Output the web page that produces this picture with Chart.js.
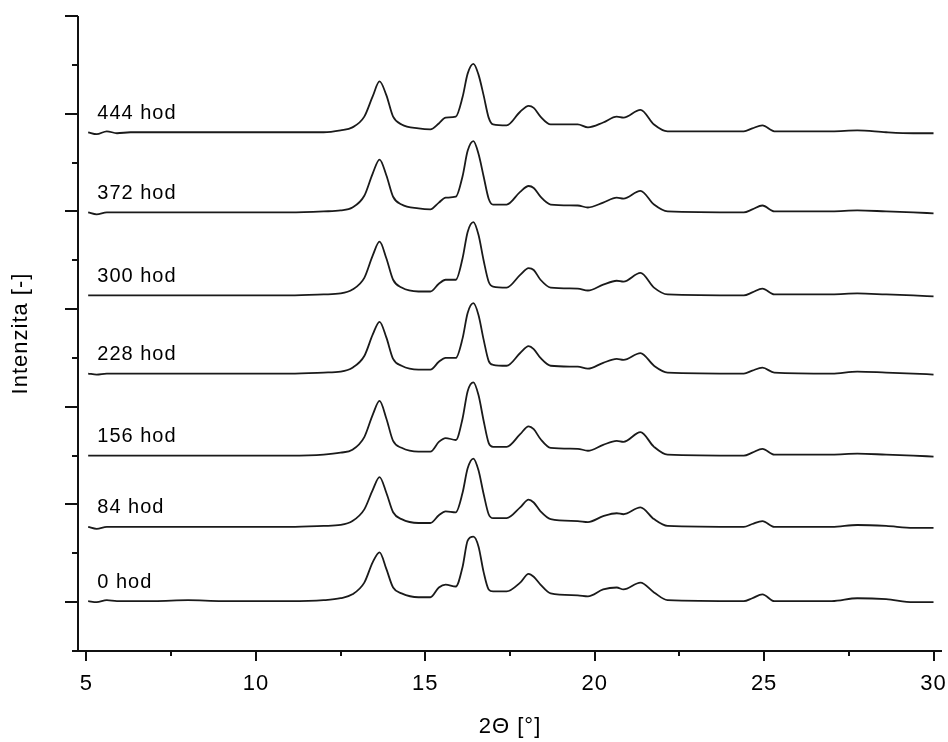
<!DOCTYPE html>
<html>
<head>
<meta charset="utf-8">
<script src="https://cdn.jsdelivr.net/npm/chart.js@4"></script>
<style>
  html, body { margin: 0; padding: 0; background: #fff; }
  canvas { display: block; }
</style>
</head>
<body>
<canvas id="xrd" width="948" height="742"></canvas>
<script>
// ── Data ──

// 2θ positions shared by all patterns
const TWO_THETA = [5.05, 5.3, 5.6, 5.9, 6.3, 7, 8, 9, 10, 11, 12, 12.5, 12.85, 13.2, 13.45, 13.65,
  13.85, 14.05, 14.3, 14.8, 15.15, 15.4, 15.6, 15.9, 16.1, 16.25, 16.42, 16.57, 16.72, 16.87, 17.0,
  17.4, 17.8, 18.05, 18.2, 18.4, 18.7, 19.5, 19.8, 20.25, 20.65, 20.85, 21.35, 21.75, 22.15, 24.4,
  24.65, 24.95, 25.3, 27.0, 27.75, 28.6, 29.4, 30.0];

const SERIES_LABELS = ["0 hod", "84 hod", "156 hod", "228 hod", "300 hod", "372 hod", "444 hod"];
// vertical shift of each pattern (stacked plot)
const OFFSETS = [1, 77, 150, 234, 314, 399, 481];

const I_0 = [0, -1, 1, 0, 0, 0, 1, 0, 0, 0, 1, 3, 7, 19, 40, 50, 33, 14, 8, 4, 4, 14, 17, 15, 35, 62, 66,
  56, 30, 12, 10, 10, 19, 28, 25, 17, 8, 6, 5, 12, 14, 12, 19, 9, 1, 0, 3, 7, 0, 0, 3, 2, -1, -1];
const I_84 = [0, -2, 0, 0, 0, 0, 0, 0, 0, 0, 1, 2, 6, 18, 38, 51, 35, 15, 8, 4, 4, 12, 16, 15, 35, 60, 70,
  58, 34, 13, 9, 9, 20, 28, 25, 16, 8, 6, 5, 11, 14, 13, 20, 8, 1, 0, 3, 6, 0, 0, 2, 1, -1, -1];
const I_156 = [0, 0, 0, 0, 0, 0, 0, 0, 0, 0, 1, 3, 6, 19, 42, 56, 38, 15, 8, 4, 4, 14, 18, 16, 38, 66, 75,
  62, 36, 13, 9, 9, 22, 30, 27, 17, 8, 7, 5, 11, 15, 14, 24, 9, 1, 0, 3, 7, 1, 1, 2, 1, 0, -1];
const I_228 = [0, -1, 0, 0, 0, 0, 0, 0, 0, 0, 1, 2, 6, 18, 40, 53, 37, 15, 8, 4, 4, 12, 16, 16, 36, 62, 72,
  60, 35, 13, 9, 8, 21, 28, 25, 16, 8, 7, 5, 11, 15, 14, 21, 8, 1, 0, 3, 6, 1, 0, 2, 1, 0, -1];
const I_300 = [0, 0, 0, 0, 0, 0, 0, 0, 0, 0, 1, 2, 6, 18, 41, 55, 38, 16, 8, 4, 4, 12, 16, 16, 38, 65, 75,
  62, 36, 14, 9, 8, 21, 28, 26, 16, 8, 7, 5, 11, 15, 14, 23, 8, 1, 0, 3, 7, 1, 1, 2, 1, 0, -1];
const I_372 = [0, -2, 0, 0, 0, 0, 0, 0, 0, 0, 1, 2, 5, 17, 40, 54, 38, 16, 8, 4, 3, 10, 15, 16, 37, 63, 73,
  60, 37, 14, 8, 8, 21, 27, 25, 16, 8, 7, 5, 10, 15, 14, 22, 8, 1, 0, 3, 7, 1, 1, 2, 1, 0, -1];
const I_444 = [0, -2, 1, -1, 0, 0, 0, 0, 0, 0, 0, 2, 5, 16, 37, 52, 38, 16, 8, 4, 3, 9, 15, 16, 36, 60, 70,
  59, 38, 15, 8, 7, 21, 27, 25, 16, 8, 8, 5, 10, 16, 15, 23, 8, 1, 1, 4, 7, 1, 1, 2, 0, -1, -1];

const INTENSITIES = [I_0, I_84, I_156, I_228, I_300, I_372, I_444];

// axis ticks
const X_MAJOR = [5, 10, 15, 20, 25, 30];
const X_MINOR = [7.5, 12.5, 17.5, 22.5, 27.5];
const Y_MAJOR = [0, 100, 200, 300, 400, 500, 600];
const Y_MINOR = [50, 150, 250, 350, 450, 550];
const LABEL_X = 5.32;

// ── Plugins ──

const INK = "#000";
const FONT = "'Liberation Sans', Arial, sans-serif";

// global letter spacing so the text width matches the original
const spacing = {
  id: "spacing",
  beforeDraw(chart) { chart.ctx.letterSpacing = "1px"; },
};

// axis lines, major/minor ticks and the series labels
const frame = {
  id: "frame",
  afterDraw(chart) {
    var ctx = chart.ctx;
    var a = chart.chartArea;
    var x = chart.scales.x;
    var y = chart.scales.y;
    ctx.save();
    ctx.strokeStyle = "#111";
    ctx.lineWidth = 2;
    ctx.beginPath();
    ctx.moveTo(a.left, a.top);
    ctx.lineTo(a.left, a.bottom);
    ctx.moveTo(a.left - 6, a.bottom);
    ctx.lineTo(a.right, a.bottom);
    Y_MAJOR.forEach(function (v) {
      var p = Math.round(y.getPixelForValue(v));
      ctx.moveTo(a.left - 13, p); ctx.lineTo(a.left, p);
    });
    Y_MINOR.forEach(function (v) {
      var p = Math.round(y.getPixelForValue(v));
      ctx.moveTo(a.left - 6, p); ctx.lineTo(a.left, p);
    });
    X_MAJOR.forEach(function (v) {
      var p = Math.round(x.getPixelForValue(v));
      ctx.moveTo(p, a.bottom); ctx.lineTo(p, a.bottom + 10);
    });
    X_MINOR.forEach(function (v) {
      var p = Math.round(x.getPixelForValue(v));
      ctx.moveTo(p, a.bottom); ctx.lineTo(p, a.bottom + 5);
    });
    ctx.stroke();

    ctx.fillStyle = INK;
    ctx.font = "20px " + FONT;
    ctx.textAlign = "left";
    ctx.textBaseline = "middle";
    SERIES_LABELS.forEach(function (name, i) {
      ctx.fillText(name, x.getPixelForValue(LABEL_X), y.getPixelForValue(OFFSETS[i]) - 19);
    });
    ctx.restore();
  },
};

// ── Chart ──

var datasets = SERIES_LABELS.map(function (name, i) {
  return {
    label: name,
    data: TWO_THETA.map(function (t, k) { return { x: t, y: INTENSITIES[i][k] + OFFSETS[i] }; }),
    borderColor: "#1a1a1a",
    borderWidth: 1.8,
    pointRadius: 0,
    fill: false,
    cubicInterpolationMode: "monotone",
  };
});

new Chart(document.getElementById("xrd"), {
  type: "line",
  data: { datasets: datasets },
  plugins: [spacing, frame],
  options: {
    responsive: false,
    animation: false,
    events: [],
    layout: { padding: { top: 16, right: 6, left: 0, bottom: 0 } },
    plugins: { legend: { display: false }, tooltip: { enabled: false } },
    scales: {
      x: {
        type: "linear",
        min: 4.75,
        max: 30.25,
        afterBuildTicks: function (s) { s.ticks = X_MAJOR.map(function (v) { return { value: v }; }); },
        afterFit: function (s) { s.height = 91; s.paddingLeft = 0; s.paddingRight = 0; },
        grid: { display: false, drawTicks: false },
        border: { display: false },
        ticks: { color: INK, font: { family: FONT, size: 22 }, padding: 20, maxRotation: 0 },
        title: {
          display: true,
          text: "2Θ [°]",
          color: INK,
          font: { family: FONT, size: 22 },
          padding: { top: 0, bottom: 2 },
        },
      },
      y: {
        type: "linear",
        min: -50,
        max: 600,
        afterFit: function (s) { s.width = 78; },
        grid: { display: false, drawTicks: false },
        border: { display: false },
        ticks: { display: false },
        title: {
          display: true,
          text: "Intenzita [-]",
          color: INK,
          font: { family: FONT, size: 22 },
          padding: { top: 8, bottom: 0 },
        },
      },
    },
  },
});
</script>
</body>
</html>
